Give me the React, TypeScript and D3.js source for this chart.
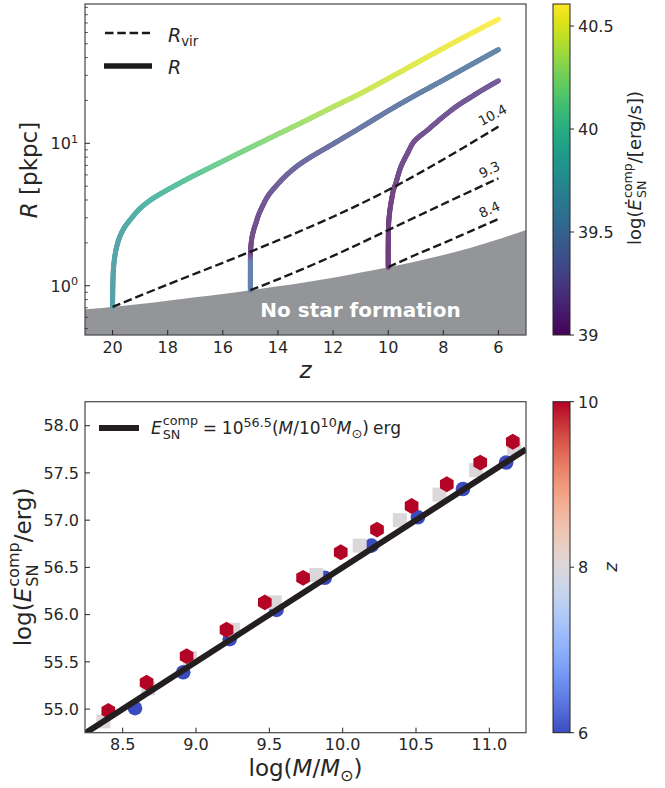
import React, { useEffect, useRef } from 'react';
import * as d3 from 'd3';

// ---- top panel: tracks R(z) coloured by log Edot_SN^comp ----
const zTrack1 = [20.0, 19.99, 19.97, 19.93, 19.85, 19.72, 19.55, 19.3, 19.06, 18.7, 18.33, 17.36, 16.15, 14.94, 14.0, 13.0, 12.0, 11.0, 10.0, 9.0, 8.0, 7.0, 6.0];
const rTrack1 = [0.71, 1.0, 1.29, 1.55, 1.88, 2.25, 2.6, 3.0, 3.4, 3.9, 4.34, 5.52, 7.24, 9.46, 11.6, 14.4, 18.0, 22.4, 28.5, 36.4, 46.5, 59.0, 74.3];
const eTrack1 = [39.72, 39.72, 39.73, 39.74, 39.75, 39.77, 39.79, 39.83, 39.86, 39.9, 39.94, 40.03, 40.13, 40.21, 40.27, 40.33, 40.38, 40.43, 40.47, 40.51, 40.54, 40.575, 40.607];

const zTrack2 = [15.0, 15.0, 15.0, 14.995, 14.97, 14.93, 14.87, 14.8, 14.7, 14.57, 14.35, 14.09, 13.8, 13.48, 13.0, 12.0, 11.0, 10.0, 9.0, 8.0, 7.0, 6.0];
const rTrack2 = [0.93, 1.25, 1.55, 1.7, 2.0, 2.25, 2.5, 2.75, 3.15, 3.59, 4.3, 4.96, 5.7, 6.5, 7.6, 9.9, 12.9, 16.9, 21.8, 27.8, 35.6, 45.5];
const eTrack2 = [39.45, 39.45, 39.43, 39.08, 39.08, 39.09, 39.1, 39.11, 39.12, 39.14, 39.17, 39.2, 39.23, 39.26, 39.3, 39.35, 39.39, 39.42, 39.45, 39.47, 39.49, 39.5];

const zTrack3 = [10.0, 10.0, 9.995, 9.98, 9.95, 9.91, 9.86, 9.81, 9.73, 9.545, 9.3, 9.06, 8.57, 8.0, 7.5, 7.0, 6.5, 6.0];
const rTrack3 = [1.35, 1.8, 2.3, 2.8, 3.25, 3.7, 4.2, 4.7, 5.2, 6.8, 8.5, 10.3, 12.4, 15.4, 18.3, 21.1, 24.2, 27.5];
const eTrack3 = [39.0, 39.0, 39.01, 39.02, 39.03, 39.04, 39.05, 39.06, 39.07, 39.09, 39.1, 39.12, 39.13, 39.15, 39.16, 39.17, 39.18, 39.19];

// virial radii, labelled by log halo mass
const rvirLabels = ['10.4', '9.3', '8.4'];
const zVir1 = [20, 18, 16, 14, 12, 10, 8, 6];
const rVir1 = [0.71, 1.02, 1.45, 2.08, 3.05, 4.7, 7.7, 13.1];
const zVir2 = [15, 14, 12, 10, 8, 6];
const rVir2 = [0.93, 1.11, 1.62, 2.46, 3.75, 5.68];
const zVir3 = [10, 9, 8, 7, 6];
const rVir3 = [1.35, 1.65, 1.99, 2.42, 2.94];

// lower edge of the "no star formation" region
const zFloor = [21, 20, 19, 18, 17, 16, 15, 14, 13, 12, 11, 10, 9, 8, 7, 6, 5];
const rFloor = [0.683, 0.71, 0.745, 0.785, 0.83, 0.875, 0.93, 0.99, 1.06, 1.14, 1.24, 1.35, 1.48, 1.645, 1.85, 2.12, 2.46];

const zTicks = [20, 18, 16, 14, 12, 10, 8, 6];
const edotTicks = [39, 39.5, 40, 40.5];

// ---- bottom panel: E_SN^comp vs halo mass at z = 6, 8, 10 ----
const mass6 = [8.584, 8.913, 9.23, 9.549, 9.878, 10.196, 10.513, 10.82, 11.115];
const esn6 = [55.01, 55.39, 55.74, 56.05, 56.39, 56.73, 57.03, 57.33, 57.61];
const mass8 = [8.368, 8.674, 8.958, 9.253, 9.537, 9.82, 10.116, 10.39, 10.66, 10.91, 11.17];
const esn8 = [54.87, 55.22, 55.54, 55.84, 56.13, 56.42, 56.73, 57.0, 57.27, 57.53, 57.76];
const mass10 = [8.402, 8.663, 8.936, 9.208, 9.469, 9.73, 9.987, 10.234, 10.47, 10.71, 10.938, 11.16];
const esn10 = [54.98, 55.28, 55.56, 55.84, 56.13, 56.39, 56.66, 56.9, 57.15, 57.38, 57.61, 57.83];
const fitNorm = 56.5;
const massTicks = [8.5, 9.0, 9.5, 10.0, 10.5, 11.0];
const esnTicks = [55.0, 55.5, 56.0, 56.5, 57.0, 57.5, 58.0];
const zbarTicks = [6, 8, 10];

const FONT = "'DejaVu Sans', sans-serif";
const INK = '#262626';
const coolwarm = d3.interpolateRgbBasis(['#3b4cc0', '#6788ee', '#8db0fe', '#b8d0f9', '#dddddd', '#f5c4ad', '#f49a7b', '#dc5d4a', '#b40426']);

// lays out a bit of mathtext-like text piece by piece
function rich(parent: any, x: number, y: number, segs: any[], size: number, anchor = 'start', shrink = 0.7) {
  const g = parent.append('g');
  let cx = 0;
  const small = shrink * size;
  const add = (t: string, px: number, py: number, fs: number, it?: boolean) => {
    const el = g.append('text').attr('x', px).attr('y', py).attr('font-size', fs)
      .attr('fill', INK).attr('font-style', it ? 'italic' : null).text(t);
    return (el.node() as SVGTextElement).getComputedTextLength();
  };
  for (const s of segs) {
    if (s.gap) { cx += s.gap * size; continue; }
    if (s.sup !== undefined && s.sub !== undefined) {
      const w1 = add(s.sup, cx + 1, -0.52 * size, small);
      const w2 = add(s.sub, cx + 1, 0.3 * size, small);
      cx += Math.max(w1, w2) + 1;
    } else if (s.sup !== undefined) {
      cx += add(s.sup, cx, -0.42 * size, small);
    } else if (s.sub !== undefined) {
      cx += add(s.sub, cx, 0.22 * size, small);
    } else {
      cx += add(s.t, cx, 0, size, s.it);
    }
  }
  const off = anchor === 'middle' ? -cx / 2 : anchor === 'end' ? -cx : 0;
  g.attr('transform', `translate(${x + off},${y})`);
  return g;
}

function rotLabel(svg: any, x: number, y: number, segs: any[], size: number) {
  const g = svg.append('g').attr('transform', `translate(${x},${y}) rotate(-90)`);
  rich(g, 0, 0, segs, size, 'middle');
}

function colorbar(svg: any, id: string, x0: number, y0: number, y1: number, interp: (t: number) => string, lo: number, hi: number, ticks: number[]) {
  const grad = svg.select('defs').append('linearGradient').attr('id', id)
    .attr('x1', 0).attr('y1', 1).attr('x2', 0).attr('y2', 0);
  d3.range(0, 1.0001, 0.05).forEach(t => grad.append('stop').attr('offset', t).attr('stop-color', interp(t)));
  svg.append('rect').attr('x', x0).attr('y', y0).attr('width', 17).attr('height', y1 - y0)
    .attr('fill', `url(#${id})`).attr('stroke', INK).attr('stroke-width', 1);
  const s = d3.scaleLinear().domain([lo, hi]).range([y1, y0]);
  ticks.forEach(v => {
    svg.append('line').attr('x1', x0 + 17).attr('x2', x0 + 21).attr('y1', s(v)).attr('y2', s(v)).attr('stroke', INK);
    svg.append('text').attr('x', x0 + 25).attr('y', s(v) + 5.8).attr('font-size', 16).attr('fill', INK).text(String(v));
  });
}

function drawTop(svg: any) {
  const L = 85, R = 526, T = 4, B = 335;
  const x = d3.scaleLinear().domain([21, 5]).range([L, R]);
  const y = d3.scaleLog().domain([0.451, 95.1]).range([B, T]);
  const edot = d3.scaleLinear().domain([39, 40.607]).range([0, 1]);

  svg.select('defs').append('clipPath').attr('id', 'clipTop')
    .append('rect').attr('x', L).attr('y', T).attr('width', R - L).attr('height', B - T);
  const g = svg.append('g').attr('clip-path', 'url(#clipTop)');

  const floor = d3.area<number>().x((d, i) => x(zFloor[i])).y0(B).y1(d => y(d)).curve(d3.curveCatmullRom);
  g.append('path').datum(rFloor).attr('d', floor).attr('fill', '#939598');
  g.append('text').attr('x', 360.5).attr('y', 317).attr('text-anchor', 'middle').attr('font-size', 20)
    .attr('font-weight', 'bold').attr('fill', '#fff').text('No star formation');

  const smooth = d3.line().curve(d3.curveCatmullRom.alpha(0.5));
  const track = (zs: number[], rs: number[], es: number[]) => {
    const pts: [number, number][] = zs.map((z, i) => [x(z), y(rs[i])]);
    const tmp = g.append('path').attr('d', smooth(pts)).attr('fill', 'none');
    const node = tmp.node() as SVGPathElement;
    const len = node.getTotalLength();
    const cum = [0];
    for (let i = 1; i < pts.length; i++) cum.push(cum[i - 1] + Math.hypot(pts[i][0] - pts[i - 1][0], pts[i][1] - pts[i - 1][1]));
    const tot = cum[cum.length - 1];
    const n = Math.ceil(len / 1.2);
    let prev = node.getPointAtLength(0);
    for (let k = 1; k <= n; k++) {
      const p = node.getPointAtLength((k / n) * len);
      const target = ((k - 0.5) / n) * tot;
      let i = 0;
      while (i < cum.length - 2 && cum[i + 1] < target) i++;
      const t = cum[i + 1] > cum[i] ? (target - cum[i]) / (cum[i + 1] - cum[i]) : 0;
      const e = es[i] + (es[i + 1] - es[i]) * Math.min(1, Math.max(0, t));
      const c = d3.interpolateRgb('#ffffff', d3.interpolateViridis(edot(e)))(0.76);
      g.append('line').attr('x1', prev.x).attr('y1', prev.y).attr('x2', p.x).attr('y2', p.y)
        .attr('stroke', c).attr('stroke-width', 5).attr('stroke-linecap', 'round');
      prev = p;
    }
    tmp.remove();
  };
  track(zTrack1, rTrack1, eTrack1);
  track(zTrack2, rTrack2, eTrack2);
  track(zTrack3, rTrack3, eTrack3);

  const dashed = (zs: number[], rs: number[]) => {
    const pts: [number, number][] = zs.map((z, i) => [x(z), y(rs[i])]);
    g.append('path').attr('d', smooth(pts)).attr('fill', 'none').attr('stroke', '#1a1a1a')
      .attr('stroke-width', 2.4).attr('stroke-dasharray', '8.5,3.8');
  };
  dashed(zVir1, rVir1);
  dashed(zVir2, rVir2);
  dashed(zVir3, rVir3);

  const labelPos = [[492.5, 115, -28], [489.3, 169.5, -25], [489.3, 209.5, -24]];
  rvirLabels.forEach((lab, i) => {
    const [lx, ly, a] = labelPos[i];
    svg.append('text').attr('transform', `translate(${lx},${ly}) rotate(${a})`).attr('dy', '0.36em')
      .attr('text-anchor', 'middle').attr('font-size', 13.5).attr('fill', INK).text(lab);
  });

  // frame + ticks
  svg.append('rect').attr('x', L).attr('y', T).attr('width', R - L).attr('height', B - T)
    .attr('fill', 'none').attr('stroke', '#4d4d4d').attr('stroke-width', 1.25);
  zTicks.forEach(v => {
    svg.append('line').attr('x1', x(v)).attr('x2', x(v)).attr('y1', B).attr('y2', B - 5).attr('stroke', INK);
    svg.append('text').attr('x', x(v)).attr('y', 353).attr('text-anchor', 'middle').attr('font-size', 16).attr('fill', INK).text(v);
  });
  const minor = [0.5, 0.6, 0.7, 0.8, 0.9, 2, 3, 4, 5, 6, 7, 8, 9, 20, 30, 40, 50, 60, 70, 80, 90];
  minor.forEach(v => svg.append('line').attr('x1', L).attr('x2', L + 2.8).attr('y1', y(v)).attr('y2', y(v)).attr('stroke', INK).attr('stroke-width', 0.8));
  [[1, '0'], [10, '1']].forEach(([v, p]) => {
    svg.append('line').attr('x1', L).attr('x2', L + 5).attr('y1', y(v as number)).attr('y2', y(v as number)).attr('stroke', INK);
    rich(svg, 78, y(v as number) + 6, [{ t: '10' }, { sup: p }], 16, 'end');
  });

  rotLabel(svg, 37, 170, [{ t: 'R', it: true }, { gap: 0.32 }, { t: '[pkpc]' }], 23);
  rich(svg, 305.5, 378, [{ t: 'z', it: true }], 23, 'middle');

  // legend
  svg.append('line').attr('x1', 105).attr('x2', 150).attr('y1', 33).attr('y2', 33)
    .attr('stroke', '#1a1a1a').attr('stroke-width', 2.4).attr('stroke-dasharray', '8.5,3.8');
  svg.append('line').attr('x1', 104).attr('x2', 152).attr('y1', 66).attr('y2', 66)
    .attr('stroke', '#1a1a1a').attr('stroke-width', 5.5);
  rich(svg, 168, 41.5, [{ t: 'R', it: true }, { sub: 'vir' }], 19);
  rich(svg, 168, 74, [{ t: 'R', it: true }], 19);

  colorbar(svg, 'gradViridis', 553, T, B, d3.interpolateViridis, 39, 40.607, edotTicks);
  rotLabel(svg, 641, 168, [{ t: 'log(' }, { t: 'Ė', it: true }, { sup: 'comp', sub: 'SN' }, { t: '/[erg/s])' }], 18);
}

function drawBottom(svg: any) {
  const L = 85, R = 526, T = 401.7, B = 732.7;
  const x = d3.scaleLinear().domain([8.243, 11.25]).range([L, R]);
  const y = d3.scaleLinear().domain([54.75, 58.254]).range([B, T]);
  const zc = (z: number) => coolwarm((z - 6) / 4);

  svg.select('defs').append('clipPath').attr('id', 'clipBot')
    .append('rect').attr('x', L).attr('y', T).attr('width', R - L).attr('height', B - T);
  const g = svg.append('g').attr('clip-path', 'url(#clipBot)');

  g.selectAll('circle.z6').data(mass6).join('circle').attr('class', 'z6')
    .attr('cx', d => x(d)).attr('cy', (d, i) => y(esn6[i])).attr('r', 7.3).attr('fill', zc(6));
  g.selectAll('rect.z8').data(mass8).join('rect').attr('class', 'z8')
    .attr('x', d => x(d) - 7).attr('y', (d, i) => y(esn8[i]) - 7).attr('width', 14).attr('height', 14).attr('fill', zc(8));
  const hex = d3.range(6).map(k => {
    const a = -Math.PI / 2 + (k * Math.PI) / 3;
    return [7.9 * Math.cos(a), 7.9 * Math.sin(a)];
  });
  const hexPath = 'M' + hex.map(p => p.join(',')).join('L') + 'Z';
  g.selectAll('path.z10').data(mass10).join('path').attr('class', 'z10')
    .attr('d', hexPath).attr('transform', (d, i) => `translate(${x(d)},${y(esn10[i])})`).attr('fill', zc(10));

  const fit = d3.line<number>().x(d => x(d)).y(d => y(fitNorm + (d - 10)));
  g.append('path').datum(x.domain()).attr('d', fit).attr('stroke', '#231f20').attr('stroke-width', 6).attr('fill', 'none');

  svg.append('rect').attr('x', L).attr('y', T).attr('width', R - L).attr('height', B - T)
    .attr('fill', 'none').attr('stroke', '#4d4d4d').attr('stroke-width', 1.25);
  massTicks.forEach(v => {
    svg.append('line').attr('x1', x(v)).attr('x2', x(v)).attr('y1', B).attr('y2', B - 5).attr('stroke', INK);
    svg.append('text').attr('x', x(v)).attr('y', 750).attr('text-anchor', 'middle').attr('font-size', 16).attr('fill', INK).text(v.toFixed(1));
  });
  esnTicks.forEach(v => {
    svg.append('line').attr('x1', L).attr('x2', L + 5).attr('y1', y(v)).attr('y2', y(v)).attr('stroke', INK);
    svg.append('text').attr('x', 79).attr('y', y(v) + 5.8).attr('text-anchor', 'end').attr('font-size', 16).attr('fill', INK).text(v.toFixed(1));
  });

  rotLabel(svg, 31, 567, [{ t: 'log(' }, { t: 'E', it: true }, { sup: 'comp', sub: 'SN' }, { t: '/erg)' }], 23);
  rich(svg, 305.5, 776, [{ t: 'log(' }, { t: 'M', it: true }, { t: '/' }, { t: 'M', it: true }, { sub: '⊙' }, { t: ')' }], 23, 'middle');

  svg.append('line').attr('x1', 99).attr('x2', 139).attr('y1', 428).attr('y2', 428)
    .attr('stroke', '#231f20').attr('stroke-width', 6);
  rich(svg, 151, 434, [
    { t: 'E', it: true }, { sup: 'comp', sub: 'SN' }, { gap: 0.28 }, { t: '=' }, { gap: 0.28 },
    { t: '10' }, { sup: '56.5' }, { t: '(' }, { t: 'M', it: true }, { t: '/10' }, { sup: '10' },
    { t: 'M', it: true }, { sub: '⊙' }, { t: ')' }, { gap: 0.25 }, { t: 'erg' },
  ], 17, 'start', 0.75);

  colorbar(svg, 'gradCool', 553, T, B, coolwarm, 6, 10, zbarTicks);
  rotLabel(svg, 617, 567, [{ t: 'z', it: true }], 18);
}

export default function App() {
  const ref = useRef<SVGSVGElement>(null);
  useEffect(() => {
    const svg = d3.select(ref.current);
    svg.selectAll('*').remove();
    svg.append('defs');
    drawTop(svg);
    drawBottom(svg);
  }, []);
  return (
    <svg ref={ref} width={665} height={788} fontFamily={FONT}
      style={{ position: 'absolute', left: 0, top: 0, background: '#fff' }} />
  );
}
